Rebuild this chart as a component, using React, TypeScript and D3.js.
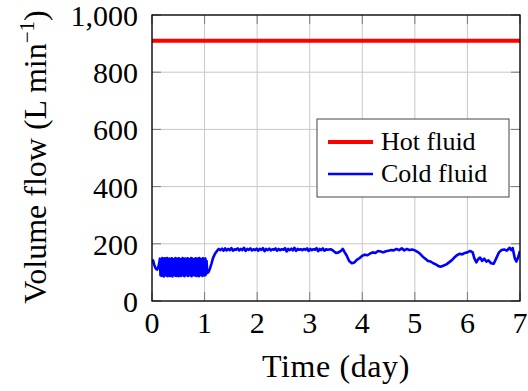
import React from "react";
import * as d3 from "d3";

const xTicks = [0, 1, 2, 3, 4, 5, 6, 7];
const yTicks = [0, 200, 400, 600, 800, 1000];
const hotFlow = 910;

// Cold fluid: start segment
const coldStart: [number, number][] = [
  [0.0, 132], [0.02, 142], [0.04, 128], [0.06, 118], [0.08, 112], [0.1, 110], [0.12, 118], [0.14, 135],
];
// Cold fluid: oscillating band, uniformly sampled from 0.15 to 1.05 day
const bandStart = 0.15;
const bandEnd = 1.05;
const coldBand = [
  148, 90, 145, 88, 150, 92, 146, 86, 149, 91, 147, 89, 150, 87, 144, 92, 148, 88, 146, 90,
  149, 86, 147, 91, 145, 89, 150, 88, 146, 92, 148, 87, 149, 90, 145, 88, 147, 91, 150, 89,
  146, 87, 148, 92, 144, 90, 149, 88, 147, 91, 146, 89, 150, 87, 148, 92, 145, 90, 147, 89,
  149, 88, 146, 91, 148, 87, 150, 90, 145, 92, 147, 88, 149, 91, 146, 89, 148, 93, 140, 98,
];
// Cold fluid: rest of the week
const coldRest: [number, number][] = [
  [1.07, 100], [1.1, 112], [1.13, 130], [1.16, 150], [1.2, 166], [1.24, 176], [1.27, 182],
  [1.3, 178], [1.33, 183], [1.36, 176], [1.39, 184], [1.42, 177], [1.45, 182], [1.48, 178],
  [1.51, 185], [1.54, 176], [1.57, 181], [1.6, 179], [1.63, 184], [1.66, 177], [1.69, 182],
  [1.72, 178], [1.75, 186], [1.78, 175], [1.81, 182], [1.84, 179], [1.87, 184], [1.9, 177],
  [1.93, 181], [1.96, 178], [1.99, 183], [2.02, 176], [2.05, 182], [2.08, 179], [2.11, 185],
  [2.14, 174], [2.17, 182], [2.2, 178], [2.23, 183], [2.26, 177], [2.29, 181], [2.32, 179],
  [2.35, 184], [2.38, 176], [2.41, 182], [2.44, 178], [2.47, 181], [2.5, 179], [2.53, 185],
  [2.56, 173], [2.59, 182], [2.62, 178], [2.65, 183], [2.68, 177], [2.71, 186], [2.74, 175],
  [2.77, 182], [2.8, 179], [2.83, 181], [2.86, 178], [2.89, 182], [2.92, 179], [2.95, 184],
  [2.98, 175], [3.01, 182], [3.04, 178], [3.07, 181], [3.1, 179], [3.13, 185], [3.16, 174],
  [3.19, 182], [3.22, 178], [3.25, 184], [3.28, 176], [3.31, 181], [3.34, 179], [3.37, 180],
  [3.4, 181], [3.43, 178], [3.47, 172], [3.5, 168], [3.55, 170], [3.6, 176], [3.63, 182],
  [3.66, 172], [3.7, 160], [3.75, 140], [3.8, 132], [3.85, 135], [3.9, 145], [3.95, 150],
  [4.0, 158], [4.05, 162], [4.1, 160], [4.15, 166], [4.2, 170], [4.25, 168], [4.3, 175],
  [4.35, 173], [4.4, 170], [4.45, 174], [4.5, 176], [4.55, 178], [4.6, 177], [4.65, 182],
  [4.7, 178], [4.75, 184], [4.8, 177], [4.85, 182], [4.9, 178], [4.95, 180], [5.0, 177],
  [5.05, 172], [5.1, 165], [5.15, 155], [5.2, 148], [5.25, 140], [5.3, 138], [5.35, 132],
  [5.4, 128], [5.45, 122], [5.5, 120], [5.55, 124], [5.6, 128], [5.65, 135], [5.7, 142],
  [5.75, 152], [5.8, 160], [5.85, 165], [5.9, 163], [5.95, 168], [6.0, 170], [6.05, 175],
  [6.1, 170], [6.13, 150], [6.17, 135], [6.2, 145], [6.24, 152], [6.28, 140], [6.32, 148],
  [6.36, 138], [6.4, 142], [6.45, 132], [6.5, 130], [6.55, 150], [6.6, 170], [6.65, 178],
  [6.7, 180], [6.75, 176], [6.8, 186], [6.83, 178], [6.86, 185], [6.9, 150], [6.93, 138],
  [6.96, 150], [7.0, 175],
];

const W = 528;
const H = 391;
const M = { left: 152, right: 8, top: 15, bottom: 90 };
const FONT = "Liberation Serif";

export default function App() {
  const x = d3.scaleLinear().domain([0, 7]).range([M.left, W - M.right]);
  const y = d3.scaleLinear().domain([0, 1000]).range([H - M.bottom, M.top]);
  const bandStep = (bandEnd - bandStart) / (coldBand.length - 1);
  const cold: [number, number][] = [
    ...coldStart,
    ...coldBand.map((v, i) => [bandStart + i * bandStep, v] as [number, number]),
    ...coldRest,
  ];
  const line = d3
    .line<[number, number]>()
    .x((d) => x(d[0]))
    .y((d) => y(d[1]));
  const x0 = x(0), x1 = x(7), y0 = y(0), y1 = y(1000);
  const tl = 9;
  const lgX = 317, lgY = 119, lgW = 192, lgH = 78;

  return (
    <svg width={W} height={H} style={{ position: "absolute", left: 0, top: 0, background: "#fff" }}>
      <defs>
        <clipPath id="plot">
          <rect x={x0} y={y1} width={x1 - x0} height={y0 - y1} />
        </clipPath>
      </defs>
      {xTicks.map((t) => (
        <line key={"gx" + t} x1={x(t)} x2={x(t)} y1={y1} y2={y0} stroke="#c8c8c8" strokeWidth={1} />
      ))}
      {yTicks.map((t) => (
        <line key={"gy" + t} x1={x0} x2={x1} y1={y(t)} y2={y(t)} stroke="#c8c8c8" strokeWidth={1} />
      ))}
      {xTicks.map((t) => (
        <g key={"tx" + t} stroke="#7a7a7a" strokeWidth={1}>
          <line x1={x(t)} x2={x(t)} y1={y0} y2={y0 - tl} />
          <line x1={x(t)} x2={x(t)} y1={y1} y2={y1 + tl} />
        </g>
      ))}
      {yTicks.map((t) => (
        <g key={"ty" + t} stroke="#7a7a7a" strokeWidth={1}>
          <line x1={x0} x2={x0 + tl} y1={y(t)} y2={y(t)} />
          <line x1={x1} x2={x1 - tl} y1={y(t)} y2={y(t)} />
        </g>
      ))}
      <g clipPath="url(#plot)">
        <line x1={x(0)} x2={x(7)} y1={y(hotFlow)} y2={y(hotFlow)} stroke="#ff0000" strokeWidth={4} />
        <path d={line(cold) || ""} fill="none" stroke="#0000ff" strokeWidth={2.6} strokeLinejoin="round" />
      </g>
      <rect x={x0} y={y1} width={x1 - x0} height={y0 - y1} fill="none" stroke="#000" strokeWidth={1.3} />
      {xTicks.map((t) => (
        <text key={"lx" + t} x={x(t)} y={333} textAnchor="middle" fontFamily={FONT} fontSize={30} fill="#000">
          {t}
        </text>
      ))}
      {yTicks.map((t) => (
        <text key={"ly" + t} x={138} y={y(t) + 11} textAnchor="end" fontFamily={FONT} fontSize={30} fill="#000">
          {d3.format(",")(t)}
        </text>
      ))}
      <text x={336} y={377} textAnchor="middle" fontFamily={FONT} fontSize={32} letterSpacing={0.6} fill="#000">
        Time (day)
      </text>
      <text
        transform={`translate(46, 157) rotate(-90)`}
        textAnchor="middle"
        fontFamily={FONT}
        fontSize={32}
        fill="#000"
      >
        Volume flow (L min<tspan dy={-12} fontSize={21}>−1</tspan><tspan dy={12}>)</tspan>
      </text>
      <rect x={lgX} y={lgY} width={lgW} height={lgH} fill="#fff" stroke="#444" strokeWidth={1} />
      <line x1={328} x2={373} y1={142} y2={142} stroke="#ff0000" strokeWidth={4} />
      <line x1={328} x2={373} y1={174} y2={174} stroke="#0000ff" strokeWidth={2.6} />
      <text x={381} y={150} fontFamily={FONT} fontSize={26} fill="#000">Hot fluid</text>
      <text x={381} y={182} fontFamily={FONT} fontSize={26} fill="#000">Cold fluid</text>
    </svg>
  );
}
